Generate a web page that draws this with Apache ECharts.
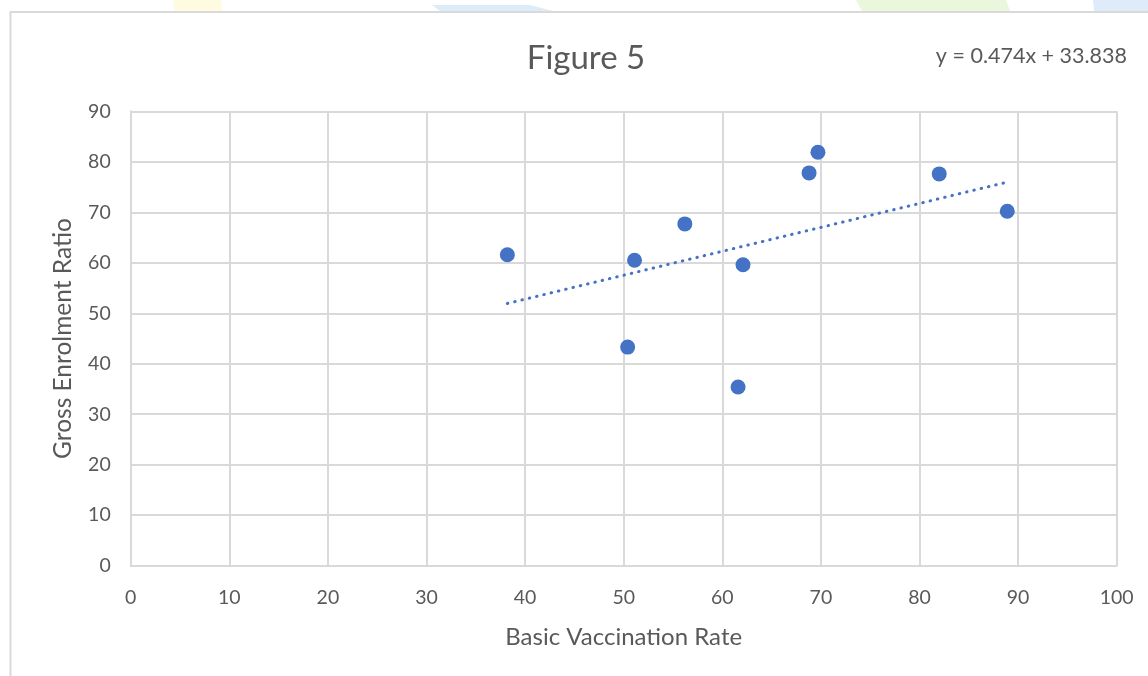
<!DOCTYPE html>
<html>
<head>
<meta charset="utf-8">
<script src="https://cdn.jsdelivr.net/npm/echarts@6/dist/echarts.min.js"></script>
<style>
html,body{margin:0;padding:0;background:#fff;}
#c{width:1148px;height:676px;}
</style>
</head>
<body>
<div id="c"></div>
<script>
// Data
const vaccinationRate = [38.2, 51.1, 50.4, 56.2, 62.1, 61.6, 68.8, 69.7, 82.0, 88.9];
const enrolmentRatio  = [61.6, 60.5, 43.3, 67.7, 59.6, 35.4, 77.8, 81.9, 77.6, 70.2];
const trendSlope = 0.474;
const trendIntercept = 33.838;
const xTicks = [0, 10, 20, 30, 40, 50, 60, 70, 80, 90, 100];
const yTicks = [0, 10, 20, 30, 40, 50, 60, 70, 80, 90];
const titleText = 'Figure 5';
const equationText = 'y = 0.474x + 33.838';
const xName = 'Basic Vaccination Rate';
const yName = 'Gross Enrolment Ratio';

const points = vaccinationRate.map((x, i) => [x, enrolmentRatio[i]]);
const xMinData = Math.min(...vaccinationRate);
const xMaxData = Math.max(...vaccinationRate);
const trend = [xMinData, xMaxData].map(x => [x, trendSlope * x + trendIntercept]);

const FONT = 'Lato';
const TXT = '#595959';
const GRID = '#d9d9d9';

const chart = echarts.init(document.getElementById('c'), null, {renderer: 'canvas'});
chart.setOption({
  animation: false,
  backgroundColor: '#fff',
  textStyle: {fontFamily: FONT},
  grid: {left: 130.7, top: 111.3, width: 986, height: 454.4, containLabel: false},
  graphic: [
    {type: 'polygon', silent: true, shape: {points: [[173,0],[221,0],[222,11],[175,11]]}, style: {fill: '#fffbe0'}},
    {type: 'polygon', silent: true, shape: {points: [[432,5],[530,5],[553,11],[440,11]]}, style: {fill: '#deebf9'}},
    {type: 'polygon', silent: true, shape: {points: [[856,0],[1006,0],[1010,11],[862,11]]}, style: {fill: '#eaf7dc'}},
    {type: 'polygon', silent: true, shape: {points: [[1093,0],[1148,0],[1148,11],[1094,11]]}, style: {fill: '#deebf9'}},
    {type: 'rect', silent: true, shape: {x: 10.5, y: 12, width: 1300, height: 800},
      style: {fill: 'none', stroke: GRID, lineWidth: 2}},
    {type: 'text', silent: true, x: 586, y: 58,
      style: {text: titleText, fontSize: 33, fontFamily: FONT, fill: TXT, align: 'center', verticalAlign: 'middle'}},
    {type: 'text', silent: true, x: 1127, y: 56,
      style: {text: equationText, fontSize: 21.5, fontFamily: FONT, fill: TXT, align: 'right', verticalAlign: 'middle'}}
  ],
  xAxis: {
    type: 'value', min: 0, max: 100, interval: 10,
    name: xName, nameLocation: 'middle', nameGap: 60,
    nameTextStyle: {fontSize: 24, color: TXT, fontFamily: FONT},
    axisLine: {show: true, lineStyle: {color: GRID, width: 2}},
    axisTick: {show: false},
    axisLabel: {fontSize: 19.5, color: TXT, fontFamily: FONT, margin: 22,
      formatter: v => xTicks.includes(v) ? String(v) : ''},
    splitLine: {show: true, lineStyle: {color: GRID, width: 2}}
  },
  yAxis: {
    type: 'value', min: 0, max: 90, interval: 10,
    name: yName, nameLocation: 'middle', nameGap: 55,
    nameTextStyle: {fontSize: 24.5, color: TXT, fontFamily: FONT},
    axisLine: {show: true, lineStyle: {color: GRID, width: 2}},
    axisTick: {show: false},
    axisLabel: {fontSize: 19.5, color: TXT, fontFamily: FONT, margin: 20,
      formatter: v => yTicks.includes(v) ? String(v) : ''},
    splitLine: {show: true, lineStyle: {color: GRID, width: 2}}
  },
  series: [
    {
      type: 'line', data: trend, symbol: 'none', silent: true, z: 2,
      lineStyle: {color: '#4472C4', width: 3, type: [0.5, 7], cap: 'round'}
    },
    {
      type: 'scatter', data: points, symbol: 'circle', symbolSize: 15, z: 3,
      itemStyle: {color: '#4472C4', opacity: 1}
    }
  ]
});
</script>
</body>
</html>
